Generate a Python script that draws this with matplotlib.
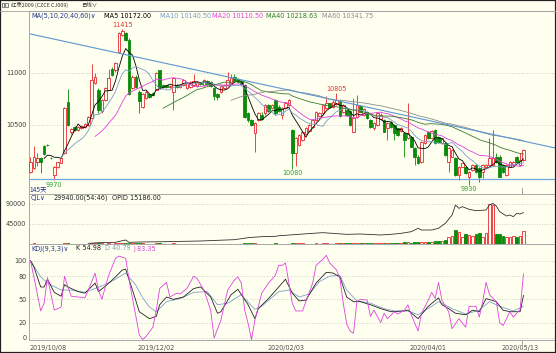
import numpy as np
import pandas as pd
import matplotlib
matplotlib.use('Agg')
import matplotlib.pyplot as plt
from matplotlib.transforms import blended_transform_factory
from matplotlib.patches import Rectangle
from matplotlib.lines import Line2D

plt.rcParams['font.family'] = ['DejaVu Sans', 'Noto Sans CJK SC']

# ---------------- data ----------------
opens = [10055,10086,10150,10180,10300,10310,10185,10020,10095,10140,10230,10720,10430,10485,10450,10470,10480,10500,10565,10900,
         10835,10630,10740,10835,11040,11025,11200,11360,11375,11310,10850,10960,10820,10675,10755,10800,10810,10835,11025,10880,
         10880,10860,10820,10880,10860,10880,
         10850,10860,10880,10870,10900,10880,10920,10910,10850,10800,10820,10850,10880,10900,10960,10940,10920,10880,10610,10550,
         10420,10550,10600,10610,10690,10660,10739,10675,10596,10660,10690,10450,10230,10310,10360,10410,10440,10480,10548,10590,
         10612,10659,10707,10675,10700,10723,10620,10644,10630,10437,10580,10680,10600,10620,
         10550,10468,10500,10560,10548,10468,10532,10500,10468,10440,10421,10373,10389,10277,10198,10150,10325,10437,10373,10453,
         10389,10325,10325,10150,10198,10182,10023,10102,10102,10007,10070,10118,10086,10055,10102,10118,10118,10198,10198,10118,
         10023,10102,10118,10198,10118,10166]
highs = [10198,10303,10230,10190,10310,10315,10190,10110,10150,10190,10675,10845,10470,10495,10490,10500,10515,10590,11080,11000,
         10850,10750,10860,11040,11050,11100,11385,11415,11390,11330,10980,10975,10830,10810,10830,10810,10820,11010,11030,10890,
         10885,10880,10955,10890,10890,10940,
         10910,10920,10990,10920,10910,10940,10930,10920,10860,10810,10880,10890,11010,10990,10990,10950,10930,10890,10620,10560,
         10525,10620,10620,10700,10700,10700,10750,10690,10670,10720,10750,10460,10385,10415,10445,10480,10510,10555,10630,10620,
         10700,10780,10715,10735,10805,10745,10700,10655,10640,10760,10790,10690,10660,10630,
         10560,10530,10620,10610,10560,10525,10540,10510,10475,10480,10430,10707,10395,10285,10210,10350,10415,10445,10450,10460,
         10395,10380,10330,10285,10270,10190,10110,10140,10110,10060,10125,10125,10095,10125,10125,10373,10453,10230,10210,10130,
         10125,10160,10160,10205,10230,10270]
lows = [10039,10080,10110,10039,10210,10300,10175,9970,10088,10135,10225,10490,10415,10440,10445,10460,10475,10495,10560,10890,
        10610,10610,10730,10830,10970,11010,11190,11350,11300,10790,10840,10855,10610,10660,10745,10760,10780,10830,10860,10850,
        10855,10850,10645,10850,10850,10870,
        10840,10850,10870,10860,10880,10870,10880,10860,10740,10740,10810,10840,10870,10890,10910,10900,10880,10570,10530,10490,
        10240,10540,10550,10600,10620,10650,10600,10620,10560,10650,10680,10080,10110,10300,10350,10400,10430,10470,10540,10580,
        10600,10650,10665,10665,10690,10580,10610,10585,10490,10430,10570,10620,10590,10560,
        10475,10453,10490,10550,10430,10357,10475,10357,10395,10430,10198,10365,10285,10118,10125,10140,10315,10365,10365,10315,
        10325,10315,10200,10055,10190,10010,9975,10095,10030,9930,10060,10045,9955,9990,10095,10110,10110,10140,10000,10045,
        10015,10095,10110,10140,10110,10160]
closes = [10150,10198,10182,10150,10222,10305,10180,10100,10145,10180,10660,10500,10460,10450,10480,10490,10505,10580,10930,10960,
          10645,10740,10850,10945,10980,11090,11375,11398,11310,10800,10960,10865,10725,10800,10820,10770,10790,11000,10865,10860,
          10860,10870,10945,10860,10880,10930,
          10900,10910,10920,10910,10890,10930,10890,10870,10780,10770,10870,10880,10930,10950,10920,10910,10890,10580,10550,10500,
          10516,10610,10560,10690,10630,10690,10612,10630,10660,10710,10739,10230,10375,10405,10437,10470,10500,10548,10620,10610,
          10690,10707,10675,10723,10739,10590,10690,10596,10500,10564,10690,10628,10650,10570,
          10485,10516,10610,10596,10437,10516,10484,10421,10405,10468,10357,10421,10293,10198,10134,10341,10405,10373,10443,10325,
          10335,10373,10214,10277,10262,10023,10102,10134,10039,10055,10118,10055,10007,10118,10118,10182,10182,10150,10007,10055,
          10118,10150,10150,10150,10166,10262]
volumes = [800,1200,600,700,900,400,500,1100,700,600,
           1500,1800,900,800,700,600,700,900,1900,1400,
           1600,1200,1100,1300,1000,1200,2200,1800,1500,2400,
           1600,1300,1500,1200,900,800,700,1300,1400,800,
           700,600,1200,700,600,800,700,600,900,700,
           600,700,600,700,1100,900,800,700,1000,900,
           800,700,700,2000,1500,1300,1800,1100,900,1000,
           900,800,1200,900,1000,900,1000,2200,2000,1400,
           1200,1100,1000,1100,1200,900,1300,1400,1000,1100,
           1500,1600,1300,1200,1600,1900,1800,1300,1200,1300,
           1500,1400,1800,1500,2200,2000,1800,2400,2000,1800,
           3500,4500,3000,4000,3500,4500,3800,3500,3750,6000,
           6000,7500,9000,15000,18750,31500,26250,15000,22500,20250,
           18750,21750,25500,16500,24000,89250,87750,21750,21750,18750,
           16500,16500,18750,16500,18750,29940]
oi_bars = [17,20,25,27,28,29,32,40,50,60,64,68,72,73,83,86,93,97,103,106,109,112,114,115,118,120,122,124,125,126,
           127,129,131,134,135,136,137,138,140,141,142,143,144,145]
oi_vals = [1500,3000,3750,7500,9000,3750,4500,5250,6750,9750,14250,16500,17250,18500,24000,25500,21750,22500,20250,21750,
           24000,27750,35250,31500,31500,35250,46500,65250,87750,80250,84000,78000,75000,76500,87750,91500,85500,72750,63000,65250,
           61500,69000,67500,70500]
k_bars = [0,1,3,4,5,7,9,10,11,14,16,19,20,22,25,27,28,30,32,35,37,38,40,42,45,48,50,53,55,56,59,61,64,66,67,70,73,75,77,79,
          81,84,87,89,91,93,95,97,100,103,106,110,111,114,117,120,121,123,125,128,130,132,134,137,139,141,144,145]
k_vals = [100,92,66,66,76,59,54,69,66,60,58,71,60,67,79,88,89,62,34,25,28,43,53,50,53,64,66,53,32,34,56,63,43,25,38,51,66,76,58,48,
          49,71,85,84,79,53,47,47,43,38,34,35,36,25,41,52,43,38,32,30,36,34,51,47,36,34,34,55]
d_bars = [0,3,5,9,12,16,19,23,28,31,33,35,37,40,44,48,52,55,58,62,66,68,73,76,79,82,85,88,91,93,96,100,104,107,111,114,118,120,
          124,128,132,135,138,142,145]
d_vals = [100,79,71,62,62,59,64,71,84,68,52,40,34,47,51,59,60,43,45,56,37,41,60,62,53,57,73,80,81,62,48,45,38,35,35,30,41,47,
          38,31,36,47,41,35,41]
j_bars = [0,1,3,4,5,7,8,9,10,11,12,14,16,17,19,20,21,22,23,25,26,28,29,30,31,32,33,34,36,37,38,40,41,43,44,46,48,49,51,53,
          54,56,58,60,61,62,63,64,65,66,68,70,72,73,74,75,76,77,78,80,81,83,84,86,87,88,90,91,92,93,94,95,96,97,99,100,101,103,104,105,
          107,108,110,111,112,114,115,117,118,119,120,121,123,124,126,128,129,131,132,133,134,135,137,138,139,141,142,143,144,145]
j_vals = [100,79,35,45,78,36,38,40,80,66,54,53,52,62,84,62,50,66,81,103,106,103,75,51,28,4,-2,2,14,36,64,72,53,58,57,64,80,77,62,36,
          0,23,62,75,79,71,36,19,-2,23,58,71,81,94,94,97,71,45,35,35,47,71,94,102,107,97,88,77,45,18,9,6,47,50,49,28,36,20,32,25,
          34,31,36,43,30,9,32,49,59,51,72,49,34,12,25,14,41,41,27,47,72,56,47,20,16,34,27,32,37,83]
ma_periods = [5, 10, 20, 40, 60]
ma_legend = ['MA5 10172.00', 'MA10 10140.50', 'MA20 10110.50', 'MA40 10218.63', 'MA60 10341.75']
trend_bars = [0, 154.6]
trend_prices = [11370, 10278]
support_price = 9988
peak_labels = [(27, '11415', 'high'), (90, '10805', 'high'), (77, '10080', 'low'), (129, '9930', 'low'), (7, '9970', 'low')]
date_bars = [0, 32, 70, 112, 139]
date_labels = ['2019/10/08', '2019/12/02', '2020/02/03', '2020/04/01', '2020/05/13']

# ---------------- style ----------------
W, H = 556, 353
BG = '#FFFFF0'
RED = '#E8262B'
GRN = '#0A8A0A'
GRID = '#BDBDBD'
AXC = '#A8A8A8'
TXT = '#404040'
NAVY = '#23348C'
FS = 4.7
MA_COLORS = ['#000000', '#7A9CC6', '#E040E0', '#3C7A2E', '#8C8C8C']

fig = plt.figure(figsize=(W / 100, H / 100), dpi=100)
fig.patch.set_facecolor(BG)

def fx(x):
    return x / W

def fy(y):
    return 1 - y / H

L = 29
ax1 = fig.add_axes([fx(L), fy(194), fx(W - L), (194 - 11) / H])
ax2 = fig.add_axes([fx(L), fy(244), fx(W - L), (244 - 194) / H])
ax3 = fig.add_axes([fx(L), fy(340), fx(W - L), (340 - 244) / H])

n = len(closes)
x = np.arange(n)
o = np.array(opens, float); h = np.array(highs, float)
lo = np.array(lows, float); c = np.array(closes, float)
up = c >= o
xl = (-0.44, 154.56)

for ax in (ax1, ax2, ax3):
    ax.set_facecolor(BG)
    ax.set_xlim(*xl)
    ax.set_xticks([])
    for s in ('right', 'bottom'):
        ax.spines[s].set_visible(False)
    ax.spines['left'].set_color(AXC)
    ax.spines['top'].set_color(AXC)
    ax.spines['left'].set_linewidth(0.7)
    ax.spines['top'].set_linewidth(0.7)
    ax.tick_params(axis='y', length=0, labelsize=FS, colors=TXT, pad=2)
    ax.yaxis.grid(True, linestyle=(0, (1, 2)), color=GRID, linewidth=0.6)
    ax.set_axisbelow(True)
ax3.spines['bottom'].set_visible(True)
ax3.spines['bottom'].set_color(AXC)
ax3.spines['bottom'].set_linewidth(0.7)

# ---- main panel ----
ax1.set_ylim(9840, 11590)
ax1.set_yticks([10500, 11000])
ax1.set_yticklabels(['10500', '11000'])
colors = np.where(up, RED, GRN)
ax1.vlines(x, lo, h, colors=colors, linewidth=0.6, zorder=2)
bb = np.minimum(o, c)
bh = np.maximum(np.abs(c - o), 3)
ax1.bar(x[up], bh[up], bottom=bb[up], width=0.72, facecolor=BG, edgecolor=RED, linewidth=0.6, zorder=3)
ax1.bar(x[~up], bh[~up], bottom=bb[~up], width=0.72, facecolor=GRN, edgecolor=GRN, linewidth=0.6, zorder=3)

cs = pd.Series(c)
for p, col in zip(ma_periods, MA_COLORS):
    ax1.plot(x, cs.rolling(p).mean(), color=col, linewidth=0.6, zorder=4)

ax1.plot(trend_bars, trend_prices, color='#5B96D0', linewidth=0.8, zorder=5)
ax1.axhline(support_price, color='#6FA8DC', linewidth=0.9, zorder=5)

for b, txt, kind in peak_labels:
    if kind == 'high':
        ax1.annotate(txt, xy=(b, highs[b]), xytext=(0, 1), textcoords='offset points',
                     ha='center', va='bottom', fontsize=FS, color='#E83030')
    else:
        ax1.annotate(txt, xy=(b, lows[b]), xytext=(0, -1), textcoords='offset points',
                     ha='center', va='top', fontsize=FS, color='#2E9B2E')
ax1.text(-0.4, 9883, '145天', ha='left', va='center', fontsize=FS, color=NAVY,
         family=['Noto Sans CJK SC', 'DejaVu Sans'])
tb1 = blended_transform_factory(ax1.transData, ax1.transAxes)
ax1.plot([n - 1.3, n - 1.3], [0, 0.035], transform=tb1, color='#909090', linewidth=0.6)

# ---- volume panel ----
ax2.set_ylim(0, 112500)
ax2.set_yticks([45000, 90000])
ax2.set_yticklabels(['45000', '90000'])
v = np.array(volumes, float)
ax2.bar(x[up], v[up], width=0.72, facecolor=BG, edgecolor=RED, linewidth=0.6, zorder=3)
ax2.bar(x[~up], v[~up], width=0.72, facecolor=GRN, edgecolor=GRN, linewidth=0.6, zorder=3)
ax2.plot(oi_bars, oi_vals, color='#303030', linewidth=0.6, zorder=4)

# ---- KDJ panel ----
ax3.set_ylim(-2.6, 121.6)
ax3.set_yticks([0, 20, 50, 80, 100])
ax3.set_yticklabels(['0', '20', '50', '80', '100'])
ax3.plot(d_bars, d_vals, color='#7FA0C8', linewidth=0.6, zorder=3)
ax3.plot(k_bars, k_vals, color='#222222', linewidth=0.6, zorder=4)
ax3.plot(j_bars, j_vals, color='#E040E0', linewidth=0.6, zorder=5)
tb3 = blended_transform_factory(ax3.transData, ax3.transAxes)
for b, lab in zip(date_bars, date_labels):
    ax3.text(b - 0.4, -0.08, lab, transform=tb3, ha='left', va='center', fontsize=FS, color='#505050')
ax3.plot([n - 1.3, n - 1.3], [-0.04, 0.0], transform=tb3, color='#909090', linewidth=0.6, clip_on=False)

# ---- header / legends ----
fig.add_artist(Line2D([0, 1], [fy(10.5), fy(10.5)], color='#A0A0A0', linewidth=0.6))
for xx in (1.5, 5):
    fig.add_artist(Rectangle((fx(xx), fy(7)), fx(2.5), 4 / H, fill=False, ec='#505050', lw=0.5))
fig.text(fx(11), fy(5), '红枣2009 (CZCE CJ009)', fontsize=3.9, color='#303030', va='center', ha='left',
         family=['Noto Sans CJK SC', 'DejaVu Sans'])
fig.text(fx(81), fy(5), '日线∨', fontsize=3.9, color='#303030', va='center', ha='left',
         family=['Noto Sans CJK SC', 'DejaVu Sans'])

def row(items, y):
    for xx, txt, col in items:
        fig.text(fx(xx), fy(y), txt, fontsize=FS, color=col, va='center', ha='left')

row([(31, 'MA(5,10,20,40,60)∨', NAVY)] +
    [(xx, t, col) for xx, t, col in zip([104, 160, 212, 266, 322], ma_legend,
                                          ['#000000', '#7A9CC6', '#E040E0', '#2E7D24', '#8C8C8C'])], 15.5)
row([(31, 'CJL∨', NAVY), (53, '29940.00(54:46)', '#202020'), (112, 'OPID 15186.00', '#202020')], 198)
row([(31, 'KDJ(9,3,3)∨', NAVY), (76, 'K 54.98', '#202020'), (105, 'D 40.79', '#7A9CC6'), (133, 'J 83.35', '#E040E0')], 248.5)

fig.add_artist(Rectangle((0, 0), 1, 1, transform=fig.transFigure, fill=False, ec='#202020', lw=1.6))

fig.savefig('out.png', dpi=100, facecolor=BG)
